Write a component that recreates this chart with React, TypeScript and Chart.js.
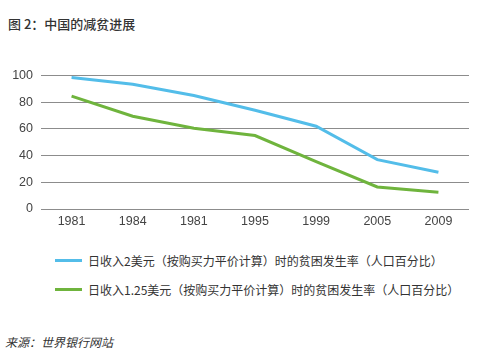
import React, { useEffect, useRef } from "react";
import { Chart, registerables } from "chart.js";

Chart.register(...registerables);

const categories = ["1981", "1984", "1981", "1995", "1999", "2005", "2009"];
const series2Label = "日收入2美元（按购买力平价计算）时的贫困发生率（人口百分比）";
const series2Values = [98.5, 93.5, 85, 74, 62, 37, 27.5];
const series125Label = "日收入1.25美元（按购买力平价计算）时的贫困发生率（人口百分比）";
const series125Values = [84.5, 69.5, 60.5, 55, 35.5, 16.5, 12.5];
const yTicks = [0, 20, 40, 60, 80, 100];

const BLUE = "#53bde9";
const GREEN = "#6fb43d";
const CJK = '"Noto Sans CJK SC", "Noto Sans", sans-serif';
const TICK_FONT = '"Liberation Sans Narrow", "Liberation Sans", Arial, sans-serif';

export default function App() {
  const ref = useRef<HTMLCanvasElement | null>(null);

  useEffect(() => {
    if (!ref.current) return;
    const chart = new Chart(ref.current, {
      type: "line",
      data: {
        labels: categories,
        datasets: [
          {
            label: series2Label,
            data: series2Values,
            borderColor: BLUE,
            backgroundColor: BLUE,
            borderWidth: 3,
            pointRadius: 0,
            tension: 0,
          },
          {
            label: series125Label,
            data: series125Values,
            borderColor: GREEN,
            backgroundColor: GREEN,
            borderWidth: 3,
            pointRadius: 0,
            tension: 0,
          },
        ],
      },
      options: {
        animation: false,
        responsive: false,
        maintainAspectRatio: false,
        layout: { padding: { left: 0, right: 18, top: 10, bottom: 6 } },
        plugins: { legend: { display: false }, tooltip: { enabled: false } },
        scales: {
          x: {
            offset: true,
            grid: { display: false, drawTicks: false },
            border: { display: false },
            ticks: {
              color: "#444",
              font: { family: TICK_FONT, size: 12.5 },
              padding: 5,
              maxRotation: 0,
            },
          },
          y: {
            min: 0,
            max: 100,
            afterBuildTicks: (axis: any) => {
              axis.ticks = yTicks.map((v) => ({ value: v }));
            },
            afterFit: (axis: any) => {
              axis.width = 41;
            },
            grid: { color: "#8c8c8c", lineWidth: 1, drawTicks: false },
            border: { display: false },
            ticks: {
              color: "#444",
              font: { family: TICK_FONT, size: 12.5 },
              padding: 8,
            },
          },
        },
      },
    });
    return () => chart.destroy();
  }, []);

  const legendRow = (color: string, text: string, top: number) => (
    <div
      style={{
        position: "absolute",
        left: 55,
        top,
        display: "flex",
        alignItems: "center",
        fontFamily: CJK,
        fontSize: 12,
        color: "#333",
        whiteSpace: "nowrap",
      }}
    >
      <div style={{ width: 27, height: 3, background: color, marginRight: 6 }} />
      <span>{text}</span>
    </div>
  );

  return (
    <div
      style={{
        position: "fixed",
        left: 0,
        top: 0,
        width: 487,
        height: 358,
        background: "#fff",
        overflow: "hidden",
      }}
    >
      <div
        style={{
          position: "absolute",
          left: 8,
          top: 14,
          fontFamily: CJK,
          fontSize: 13,
          color: "#333",
          fontWeight: 500,
          whiteSpace: "nowrap",
        }}
      >
        图 2：中国的减贫进展
      </div>
      <canvas
        ref={ref}
        width={487}
        height={180}
        style={{ position: "absolute", left: 0, top: 60, width: 487, height: 180 }}
      />
      {legendRow(BLUE, series2Label, 252)}
      {legendRow(GREEN, series125Label, 281)}
      <div
        style={{
          position: "absolute",
          left: 5,
          top: 333,
          fontFamily: CJK,
          fontSize: 12,
          fontStyle: "italic",
          color: "#333",
          whiteSpace: "nowrap",
        }}
      >
        来源：世界银行网站
      </div>
    </div>
  );
}
